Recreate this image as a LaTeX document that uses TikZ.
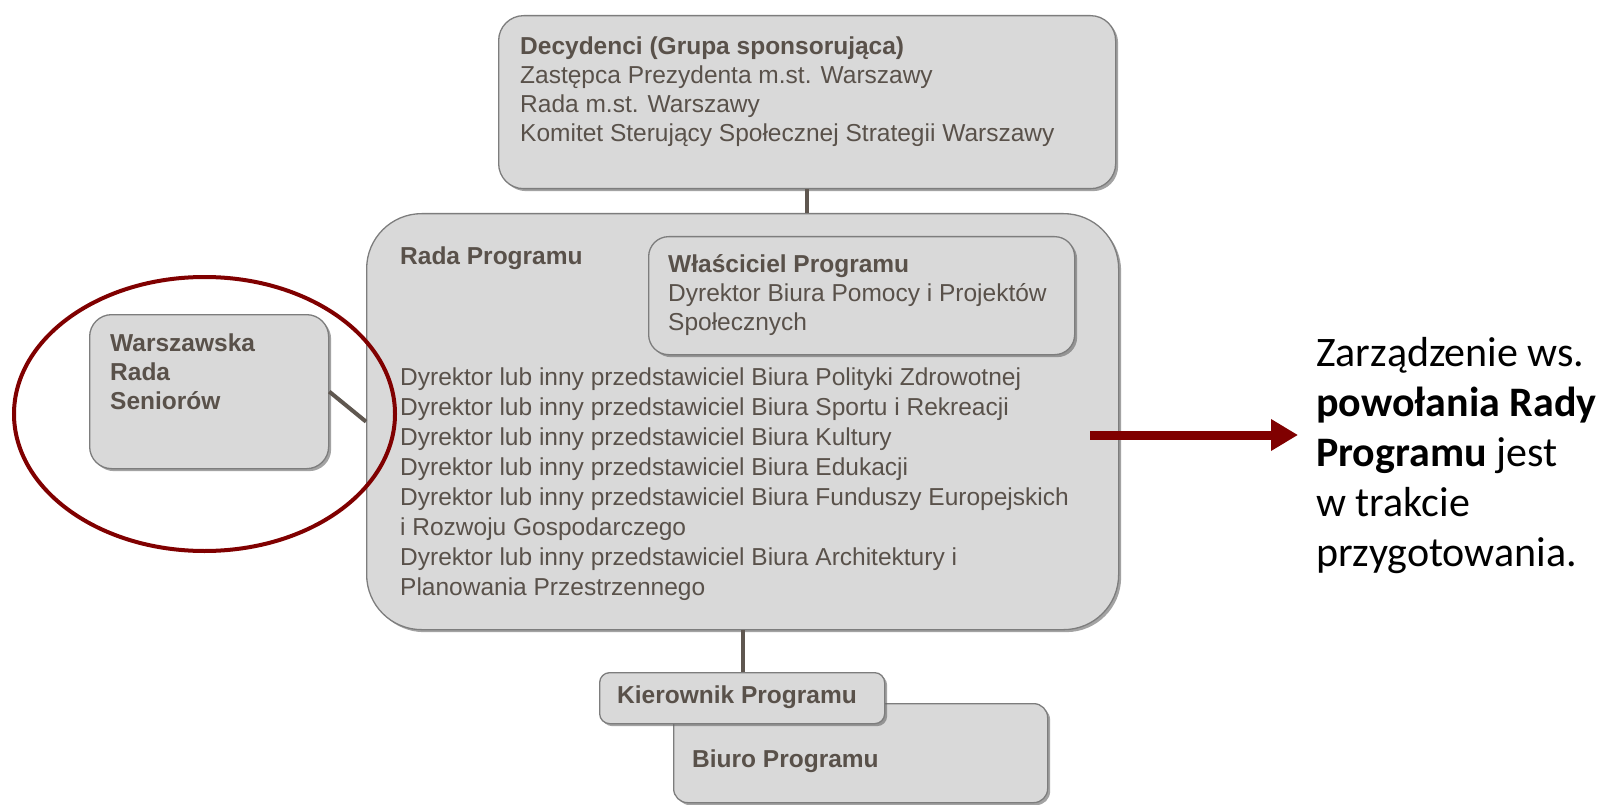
\documentclass[tikz,border=0pt]{standalone}
\usepackage{fontspec}
\setmainfont{Liberation Sans}
\newfontfamily\calib{Carlito}
\usetikzlibrary{shadows,arrows.meta}
\definecolor{boxfill}{RGB}{217,217,217}
\definecolor{boxline}{RGB}{125,125,125}
\definecolor{txtc}{RGB}{89,81,74}
\definecolor{connc}{RGB}{95,87,80}
\definecolor{darkred}{RGB}{128,0,0}
\begin{document}
\begin{tikzpicture}[x=1pt,y=-1pt,
  box/.style={draw=boxline, fill=boxfill, line width=1.3pt,
    drop shadow={shadow xshift=2.5pt, shadow yshift=-2.5pt, fill=black!60, opacity=0.6},
    anchor=north west, inner sep=0pt},
  lbl/.style={anchor=north west, inner sep=0pt, align=left, text=txtc, font=\fontsize{24.5}{29}\selectfont},
  blbl/.style={lbl, font=\fontsize{24.5}{29}\selectfont\bfseries},
  conn/.style={draw=connc, line width=4pt}]
\useasboundingbox[fill=white] (0,0) rectangle (1609,805);

% boxes
\node[box, rounded corners=25pt, minimum width=617pt, minimum height=173pt] (dec) at (498,15) {};
\node[box, rounded corners=55pt, minimum width=752pt, minimum height=416pt] (rada) at (366,213) {};
\node[box, rounded corners=20pt, minimum width=426pt, minimum height=118pt] (wl) at (648,236) {};
\node[box, rounded corners=22pt, minimum width=239pt, minimum height=154pt] (wrs) at (89,314) {};
\node[box, rounded corners=14pt, minimum width=374pt, minimum height=99pt] (biuro) at (673,703) {};
\node[box, rounded corners=10pt, minimum width=285pt, minimum height=51pt] (kier) at (599,672) {};

% connectors
\draw[conn] (dec.south) -- (dec.south |- rada.north);
\draw[conn] (rada.south) -- (rada.south |- kier.north);
\draw[conn] (wrs.east) -- (rada.west);

% texts
\node[lbl] (dect) at (520,37) {\textbf{Decydenci (Grupa sponsorująca)}\\Zastępca Prezydenta m.st. Warszawy\\Rada m.st. Warszawy\\Komitet Sterujący Społecznej Strategii Warszawy};
\node[blbl] (radat) at (400,246.5) {Rada Programu};
\node[lbl] (wlt) at (668,254) {\textbf{Właściciel Programu}\\Dyrektor Biura Pomocy i Projektów\\Społecznych};
\node[lbl, font=\fontsize{24.5}{30}\selectfont] (dyr) at (400,367.5) {Dyrektor lub inny przedstawiciel Biura Polityki Zdrowotnej\\Dyrektor lub inny przedstawiciel Biura Sportu i Rekreacji\\Dyrektor lub inny przedstawiciel Biura Kultury\\Dyrektor lub inny przedstawiciel Biura Edukacji\\Dyrektor lub inny przedstawiciel Biura Funduszy Europejskich\\i Rozwoju Gospodarczego\\Dyrektor lub inny przedstawiciel Biura Architektury i\\Planowania Przestrzennego};
\node[blbl] (wrst) at (110,333.5) {Warszawska\\Rada\\Seniorów};
\node[blbl] (kiert) at (617,685.5) {Kierownik Programu};
\node[blbl] (biurot) at (692,749.5) {Biuro Programu};

% highlight ellipse
\draw[darkred, line width=4pt] (204.5,414) ellipse [x radius=190.5pt, y radius=137pt];

% arrow and note
\coordinate (as) at (1090,435);
\coordinate (ae) at (1298,435);
\draw[darkred, line width=9pt, -{Triangle[length=27pt,width=30pt]}] (as) -- (ae);
\node[anchor=north west, inner sep=0pt, align=left, font=\calib\fontsize{42}{50}\selectfont] (note) at (1316,337)
  {Zarządzenie ws.\\\textbf{powołania Rady}\\\textbf{Programu} jest\\w trakcie\\przygotowania.};
\end{tikzpicture}
\end{document}
